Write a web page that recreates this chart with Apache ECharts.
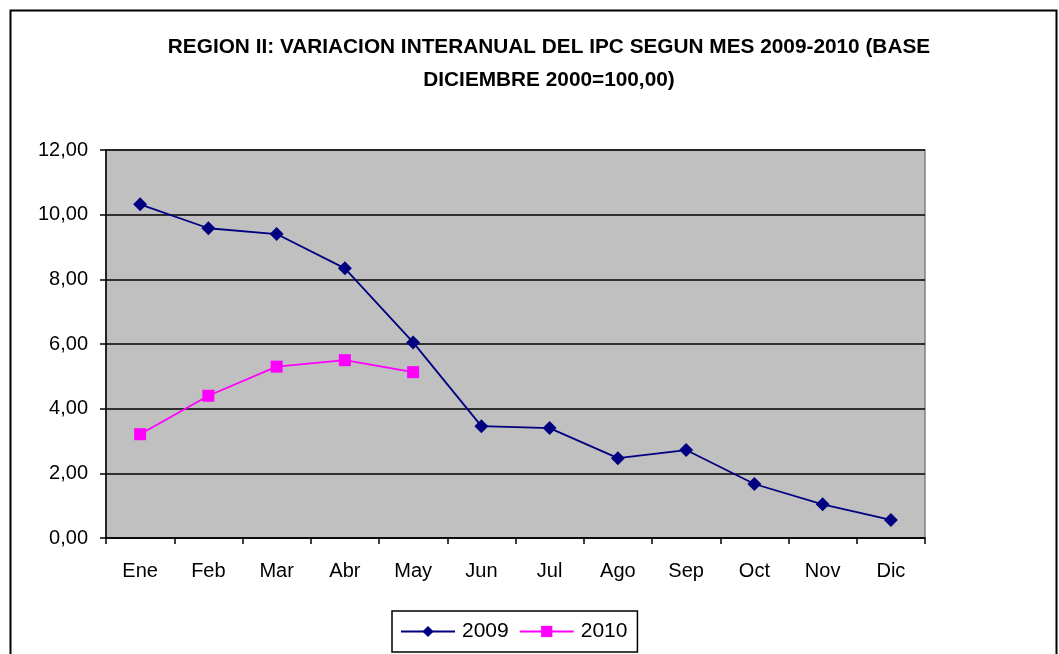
<!DOCTYPE html>
<html><head><meta charset="utf-8">
<script src="https://cdn.jsdelivr.net/npm/echarts@6/dist/echarts.min.js"></script>
<style>html,body{margin:0;padding:0;background:#fff}#c{width:1059px;height:654px}</style>
</head><body><div id="c"></div>
<script>
const categories = ['Ene','Feb','Mar','Abr','May','Jun','Jul','Ago','Sep','Oct','Nov','Dic'];
const series2009 = [10.32, 9.58, 9.40, 8.34, 6.05, 3.46, 3.40, 2.47, 2.72, 1.67, 1.04, 0.56];
const series2010 = [3.21, 4.40, 5.30, 5.50, 5.13];
const titleText = 'REGION II: VARIACION INTERANUAL DEL IPC SEGUN MES 2009-2010 (BASE\nDICIEMBRE 2000=100,00)';

const chart = echarts.init(document.getElementById('c'));
const F = '"Liberation Sans", Arial, sans-serif';
chart.setOption({
  animation: false,
  backgroundColor: '#fff',
  textStyle: { fontFamily: F },
  title: {
    text: titleText, left: 544, top: 26, textAlign: 'center',
    textStyle: { fontFamily: F, fontSize: 20.8, fontWeight: 'bold', color: '#000', lineHeight: 33 }
  },
  graphic: [
    { type: 'rect', shape: { x: 10.5, y: 10.5, width: 1046, height: 660 }, style: { fill: 'none', stroke: '#000', lineWidth: 2 }, z: 100 },
    { type: 'rect', shape: { x: 106, y: 150, width: 819, height: 388 }, style: { fill: 'none', stroke: '#808080', lineWidth: 1.5 }, z: 0 }
  ],
  grid: { left: 106, top: 150, right: 134, bottom: 116, show: true, backgroundColor: '#C0C0C0', borderWidth: 0 },
  legend: {
    data: ['2009', '2010'], left: 392, top: 611, width: 245,
    itemWidth: 54, itemHeight: 14, itemGap: 10,
    padding: [10, 10, 10, 8], borderColor: '#000', borderWidth: 1.5,
    textStyle: { fontFamily: F, fontSize: 21, color: '#000', padding: [0, 0, 0, 2] }
  },
  xAxis: {
    type: 'category', data: categories, boundaryGap: true,
    axisLine: { lineStyle: { color: '#000', width: 1.5 } },
    axisTick: { show: true, length: 6, lineStyle: { color: '#000', width: 1.5 } },
    axisLabel: { fontFamily: F, fontSize: 20, color: '#000', margin: 23 },
    splitLine: { show: false }
  },
  yAxis: {
    type: 'value', min: 0, max: 12, interval: 2,
    axisLine: { show: true, lineStyle: { color: '#000', width: 1.5 } },
    axisTick: { show: true, length: 6, lineStyle: { color: '#000', width: 1.5 } },
    axisLabel: { fontFamily: F, fontSize: 20, color: '#000', margin: 18,
      formatter: v => v.toFixed(2).replace('.', ',') },
    splitLine: { show: true, lineStyle: { color: '#000', width: 1.5 } }
  },
  series: [
    { name: '2009', type: 'line', data: series2009, symbol: 'diamond', symbolSize: 14,
      lineStyle: { color: '#000080', width: 1.8 }, itemStyle: { color: '#000080' } },
    { name: '2010', type: 'line', data: series2010, symbol: 'rect', symbolSize: 12,
      lineStyle: { color: '#FF00FF', width: 1.8 }, itemStyle: { color: '#FF00FF' } }
  ]
});
</script></body></html>
